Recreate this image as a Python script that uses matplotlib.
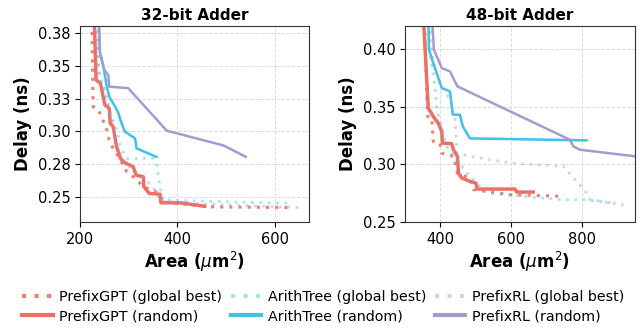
import matplotlib
matplotlib.use("Agg")
import matplotlib.pyplot as plt
from matplotlib.ticker import FormatStrFormatter

# ---------------- data: 32-bit adder ----------------
a32_gpt_rand_x = [229, 233, 242, 251, 260, 262, 268, 275, 283, 292, 309, 315, 330, 331, 342, 364, 366, 405, 456]
a32_gpt_rand_y = [0.39, 0.3393, 0.3367, 0.3202, 0.3176, 0.3061, 0.3036, 0.2883, 0.2793, 0.2760, 0.2730, 0.2666, 0.2653, 0.2577, 0.2526, 0.2520, 0.2454, 0.2454, 0.2428]
a32_gpt_best_x = [224, 227, 238, 247, 255, 260, 268, 279, 296, 309, 330, 364, 368, 467, 630]
a32_gpt_best_y = [0.39, 0.3189, 0.3163, 0.3087, 0.3010, 0.2934, 0.2870, 0.2806, 0.2691, 0.2653, 0.2577, 0.2526, 0.2462, 0.2423, 0.2418]
a32_ar_rand_x = [238, 241, 248, 255, 260, 272, 279, 283, 292, 313, 316, 357]
a32_ar_rand_y = [0.39, 0.3597, 0.3495, 0.3342, 0.3265, 0.3189, 0.3138, 0.3087, 0.2998, 0.2947, 0.2870, 0.2805]
a32_ar_best_x = [236, 239, 249, 262, 276, 283, 296, 350, 357, 364, 370, 625]
a32_ar_best_y = [0.39, 0.3393, 0.3342, 0.3138, 0.3010, 0.2883, 0.2793, 0.2793, 0.2755, 0.2577, 0.2475, 0.2450]
a32_rl_rand_x = [238, 241, 250, 258, 260, 299, 378, 494, 540]
a32_rl_rand_y = [0.39, 0.36, 0.3470, 0.3430, 0.3342, 0.3330, 0.3005, 0.2893, 0.2806]
a32_rl_best_x = [232, 237, 250, 265, 275, 290, 330, 350, 365, 450, 650]
a32_rl_best_y = [0.39, 0.35, 0.33, 0.31, 0.29, 0.276, 0.265, 0.257, 0.247, 0.2445, 0.2418]

# ---------------- data: 48-bit adder ----------------
a48_gpt_rand_x = [353, 367, 381, 395, 405, 407, 433, 438, 449, 452, 461, 484, 501, 505, 611, 616, 662]
a48_gpt_rand_y = [0.43, 0.3488, 0.3416, 0.3358, 0.3286, 0.3185, 0.3179, 0.3127, 0.3069, 0.2925, 0.2882, 0.2853, 0.2838, 0.2786, 0.2786, 0.2760, 0.2760]
a48_gpt_best_x = [356, 365, 377, 381, 400, 405, 423, 438, 449, 484, 494, 531, 597, 747]
a48_gpt_best_y = [0.43, 0.3416, 0.3402, 0.3200, 0.3185, 0.3098, 0.3084, 0.3069, 0.2925, 0.2882, 0.2780, 0.2766, 0.2737, 0.2723]
a48_ar_rand_x = [367, 369, 381, 405, 428, 436, 456, 464, 484, 812]
a48_ar_rand_y = [0.43, 0.3994, 0.3879, 0.3662, 0.3633, 0.3431, 0.3431, 0.3330, 0.3225, 0.3208]
a48_ar_best_x = [369, 372, 385, 391, 419, 447, 484, 512, 531, 738, 813, 887]
a48_ar_best_y = [0.43, 0.3950, 0.3700, 0.3480, 0.3156, 0.3040, 0.2896, 0.2809, 0.2752, 0.2694, 0.2694, 0.2665]
a48_rl_rand_x = [377, 383, 405, 428, 449, 765, 775, 793, 948]
a48_rl_rand_y = [0.43, 0.3994, 0.3835, 0.3806, 0.3676, 0.3214, 0.3156, 0.3127, 0.3070]
a48_rl_best_x = [372, 380, 400, 430, 442, 448, 484, 601, 747, 813, 822, 929]
a48_rl_best_y = [0.43, 0.3900, 0.3700, 0.3550, 0.3387, 0.3100, 0.3069, 0.3011, 0.2983, 0.2751, 0.2694, 0.2642]

titles = ["32-bit Adder", "48-bit Adder"]
labels = ["PrefixGPT (global best)", "PrefixGPT (random)",
          "ArithTree (global best)", "ArithTree (random)",
          "PrefixRL (global best)", "PrefixRL (random)"]

RED = "#EF6F63"
CYAN = "#3CC3E6"
PURP = "#A59BD0"

fig = plt.figure(figsize=(6.4, 3.28), dpi=100)
ax1 = fig.add_axes([0.125, 0.323, 0.358, 0.598])
ax2 = fig.add_axes([0.633, 0.323, 0.359, 0.598])

def draw(ax, series):
    handles = []
    for (x, y, color, ls, lw, alpha) in series:
        h, = ax.plot(x, y, color=color, linestyle=ls, linewidth=lw, alpha=alpha)
        handles.append(h)
    return handles

s32 = [
    (a32_gpt_best_x, a32_gpt_best_y, RED, (0, (1, 2)), 2.2, 0.9),
    (a32_gpt_rand_x, a32_gpt_rand_y, RED, "-", 2.5, 1.0),
    (a32_ar_best_x, a32_ar_best_y, CYAN, (0, (1, 2)), 2.0, 0.45),
    (a32_ar_rand_x, a32_ar_rand_y, CYAN, "-", 1.8, 1.0),
    (a32_rl_best_x, a32_rl_best_y, PURP, (0, (1, 2)), 2.0, 0.45),
    (a32_rl_rand_x, a32_rl_rand_y, PURP, "-", 1.8, 1.0),
]
s48 = [
    (a48_gpt_best_x, a48_gpt_best_y, RED, (0, (1, 2)), 2.2, 0.9),
    (a48_gpt_rand_x, a48_gpt_rand_y, RED, "-", 2.5, 1.0),
    (a48_ar_best_x, a48_ar_best_y, CYAN, (0, (1, 2)), 2.0, 0.45),
    (a48_ar_rand_x, a48_ar_rand_y, CYAN, "-", 1.8, 1.0),
    (a48_rl_best_x, a48_rl_best_y, PURP, (0, (1, 2)), 2.0, 0.45),
    (a48_rl_rand_x, a48_rl_rand_y, PURP, "-", 1.8, 1.0),
]
handles = draw(ax1, s32)
draw(ax2, s48)

ax1.set_xlim(200, 670)
ax1.set_ylim(0.2307, 0.3806)
ax1.set_xticks([200, 400, 600])
ax1.set_yticks([0.25, 0.275, 0.30, 0.325, 0.35, 0.375])
ax1.yaxis.set_major_formatter(FormatStrFormatter("%.2f"))

ax2.set_xlim(302, 948)
ax2.set_ylim(0.25, 0.42)
ax2.set_xticks([400, 600, 800])
ax2.set_yticks([0.25, 0.30, 0.35, 0.40])
ax2.yaxis.set_major_formatter(FormatStrFormatter("%.2f"))

for ax, t in zip([ax1, ax2], titles):
    ax.set_title(t, fontsize=11, fontweight="bold", pad=4)
    ax.set_xlabel(r"Area ($\mu$m$^2$)", fontsize=12, fontweight="bold", labelpad=2)
    ax.set_ylabel("Delay (ns)", fontsize=12, fontweight="bold")
    ax.grid(True, linestyle="--", color="#dddddd", linewidth=0.7)
    ax.tick_params(labelsize=10.5)
    for sp in ax.spines.values():
        sp.set_color("#333333")

leg = fig.legend(handles, labels, ncol=3, loc="lower center", bbox_to_anchor=(0.505, -0.025),
                 frameon=False, fontsize=10.25, handlelength=2.15, columnspacing=0.6,
                 handletextpad=0.45, labelspacing=0.38)
for lh in leg.get_lines():
    lh.set_linewidth(3.0)

fig.savefig("out.png", dpi=100)
